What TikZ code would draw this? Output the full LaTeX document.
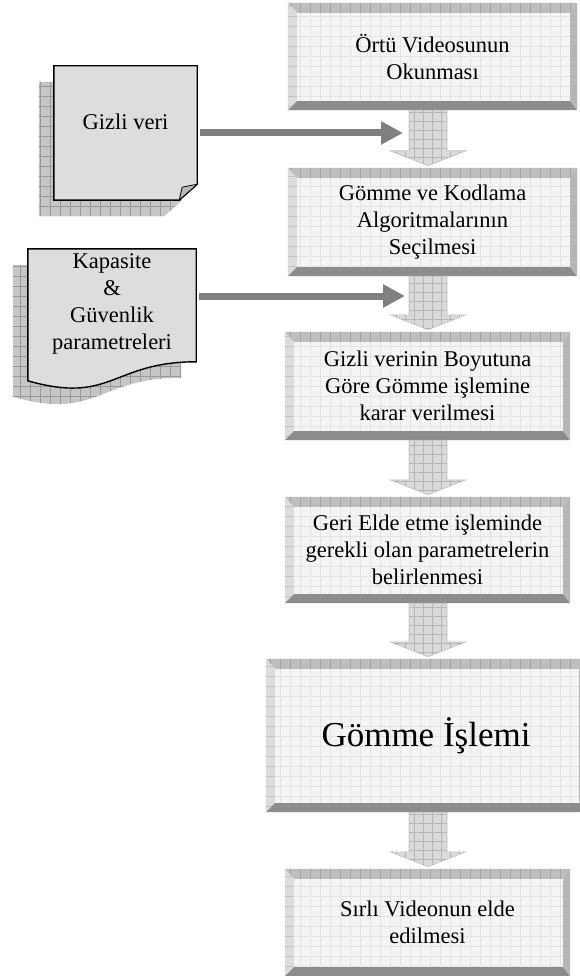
\documentclass[tikz,border=0pt]{standalone}
\usepackage{fontspec}
\setmainfont{Liberation Serif}
\usetikzlibrary{calc,patterns.meta,arrows.meta}
\pgfdeclarelayer{background}
\pgfdeclarelayer{canvas}
\pgfsetlayers{canvas,background,main}

\definecolor{facecol}{HTML}{F4F4F4}
\definecolor{facegrid}{HTML}{E4E4E4}
\definecolor{topcol}{HTML}{BEBEBE}
\definecolor{topgrid}{HTML}{A4A4A4}
\definecolor{leftcol}{HTML}{DCDCDC}
\definecolor{leftgrid}{HTML}{C4C4C4}
\definecolor{bottomcol}{HTML}{8C8C8C}
\definecolor{rightcol}{HTML}{B6B6B6}
\definecolor{arrowfill}{HTML}{DADADA}
\definecolor{arrowgrid}{HTML}{B6B6B6}
\definecolor{arrowedge}{HTML}{C2C2C2}
\definecolor{sidegray}{HTML}{808080}
\definecolor{docfill}{HTML}{DDDDDD}
\definecolor{shadowfill}{HTML}{C6C6C6}
\definecolor{shadowgrid}{HTML}{999999}

\tikzset{
  stepbox/.style={rectangle, inner sep=0pt, align=center,
    font=\fontsize{22.5}{27}\selectfont},
  docbox/.style={rectangle, inner sep=0pt},
  doclabel/.style={inner sep=0pt, align=center, font=\fontsize{22.5}{27}\selectfont},
  bevelface/.style={preaction={fill=facecol},
    pattern={Hatch[distance=10pt,line width=0.4pt]}, pattern color=facegrid},
  beveltop/.style={preaction={fill=topcol},
    pattern={Lines[angle=90,distance=10pt,line width=0.6pt]}, pattern color=topgrid},
  bevelleft/.style={preaction={fill=leftcol},
    pattern={Lines[angle=0,distance=10pt,line width=0.6pt]}, pattern color=leftgrid},
  bevelbottom/.style={fill=bottomcol},
  bevelright/.style={fill=rightcol},
  blockarrow/.style={preaction={fill=arrowfill},
    pattern={Hatch[distance=9pt,line width=0.5pt]}, pattern color=arrowgrid,
    draw=arrowedge, line width=0.6pt},
  sidearrow/.style={draw=sidegray, line width=7pt,
    -{Triangle[length=22pt,width=22pt]}},
  docshadow/.style={preaction={fill=shadowfill},
    pattern={Hatch[distance=10pt,line width=0.6pt]}, pattern color=shadowgrid},
  docoutline/.style={fill=docfill, draw=black, line width=1.4pt},
}

% bevelled process box drawn behind a named node
\newcommand{\bevelframe}[1]{%
  \begin{pgfonlayer}{background}
    \path[bevelface] ($(#1.north west)+(9,10)$) rectangle ($(#1.south east)+(-7,-9)$);
    \path[beveltop] (#1.north west) -- (#1.north east) -- ($(#1.north east)+(-7,10)$)
      -- ($(#1.north west)+(9,10)$) -- cycle;
    \path[bevelleft] (#1.north west) -- ($(#1.north west)+(9,10)$)
      -- ($(#1.south west)+(9,-9)$) -- (#1.south west) -- cycle;
    \path[bevelbottom] (#1.south west) -- ($(#1.south west)+(9,-9)$)
      -- ($(#1.south east)+(-7,-9)$) -- (#1.south east) -- cycle;
    \path[bevelright] (#1.north east) -- (#1.south east)
      -- ($(#1.south east)+(-7,-9)$) -- ($(#1.north east)+(-7,10)$) -- cycle;
  \end{pgfonlayer}}

% wide block arrow between two stacked boxes
\newcommand{\flowarrow}[2]{%
  \path[blockarrow] ($(#1.south -| axis)+(-19,0)$) -- ($(#1.south -| axis)+(19,0)$)
    -- ($(#2.north -| axis)+(19,-17)$) -- ($(#2.north -| axis)+(38,-17)$)
    -- ($(#2.north -| axis)+(0,-2)$) -- ($(#2.north -| axis)+(-38,-17)$)
    -- ($(#2.north -| axis)+(-19,-17)$) -- cycle;}

% page with a folded lower right corner, offset by (#2,#3)
\newcommand{\foldpath}[3]{($(#1.north west)+(#2,#3)$) -- ($(#1.north east)+(#2,#3)$)
  -- ($(#1.south east)+(#2,#3-16)$) -- ($(#1.south east)+(#2-18,#3)$)
  -- ($(#1.south west)+(#2,#3)$) -- cycle}

% document shape with a wavy lower edge, offset by (#2,#3)
\newcommand{\wavepath}[3]{($(#1.north west)+(#2,#3)$) -- ($(#1.north east)+(#2,#3)$)
  -- ($(#1.north east)+(#2,#3+113)$)
  .. controls ($(#1.north)+(#2,#3+113)$) and ($(#1.north)+(#2,#3+156)$)
  .. ($(#1.north west)+(#2,#3+132)$) -- cycle}

\begin{document}
\begin{tikzpicture}[x=1pt,y=-1pt]
\clip (0,0) rectangle (579,976);
\begin{pgfonlayer}{canvas}
  \fill[white] (0,0) rectangle (579,976);
\end{pgfonlayer}

% process steps
\node[stepbox, minimum width=289, minimum height=107] (b1) at (432.5,56.5)
  {Örtü Videosunun\\Okunması};
\bevelframe{b1}
\node[stepbox, minimum width=289, minimum height=108] (b2) at (432.5,222)
  {Gömme ve Kodlama\\Algoritmalarının\\Seçilmesi};
\bevelframe{b2}
\node[stepbox, minimum width=285, minimum height=108] (b3) at (427.5,386)
  {Gizli verinin Boyutuna\\Göre Gömme işlemine\\karar verilmesi};
\bevelframe{b3}
\node[stepbox, minimum width=285, minimum height=106] (b4) at (427.5,550)
  {Geri Elde etme işleminde\\gerekli olan parametrelerin\\belirlenmesi};
\bevelframe{b4}
\node[stepbox, minimum width=320, minimum height=153,
  font=\fontsize{35}{42}\selectfont] (b5) at (426,735.5) {Gömme İşlemi};
\bevelframe{b5}
\node[stepbox, minimum width=285, minimum height=107] (b6) at (427.5,922.5)
  {Sırlı Videonun elde\\edilmesi};
\bevelframe{b6}

% flow between the steps
\coordinate (axis) at (428,0);
\flowarrow{b1}{b2}
\flowarrow{b2}{b3}
\flowarrow{b3}{b4}
\flowarrow{b4}{b5}
\flowarrow{b5}{b6}

% input documents
\node[docbox, minimum width=143, minimum height=134] (doc1) at (125.5,133) {};
\node[doclabel] (doc1text) at ($(doc1.center)+(0,-11)$) {Gizli veri};
\node[docbox, minimum width=168, minimum height=141] (kap) at (112,319.5) {};
\node[doclabel] (kaptext) at (112,303.5)
  {Kapasite\\\&\\Güvenlik\\parametreleri};

\begin{pgfonlayer}{background}
  \path[docshadow] \foldpath{doc1}{-15}{16};
  \path[docoutline] \foldpath{doc1}{0}{0};
  \path[fill=gray!55, draw=black, line width=0.8pt]
    ($(doc1.south east)+(-18,0)$) .. controls ($(doc1.south east)+(-17,-6)$)
    .. ($(doc1.south east)+(-15,-13)$) -- ($(doc1.south east)+(0,-16)$) -- cycle;
  \path[docshadow] \wavepath{kap}{-15}{16};
  \path[docoutline] \wavepath{kap}{0}{0};
\end{pgfonlayer}

% inputs joining the flow
\coordinate (t1) at (403,133);
\draw[sidearrow, shorten <=3pt] (doc1.east) -- (t1);
\coordinate (t2) at (405,296);
\draw[sidearrow, shorten <=3pt] (kap.east |- t2) -- (t2);
\end{tikzpicture}
\end{document}
